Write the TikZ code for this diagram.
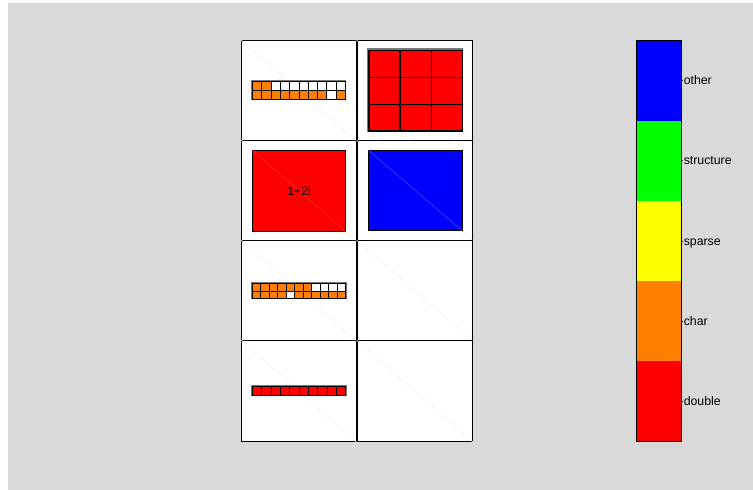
\documentclass[tikz,border=0pt]{standalone}
\usepackage{fontspec}
\setmainfont{Liberation Sans}
\definecolor{bg}{RGB}{217,217,217}
\definecolor{mlorange}{RGB}{255,128,0}
\definecolor{mlred}{RGB}{255,0,0}
\definecolor{mlblue}{RGB}{0,0,255}
\definecolor{mlgreen}{RGB}{0,255,0}
\definecolor{mlyellow}{RGB}{255,255,0}
\definecolor{shadow}{RGB}{120,120,120}
\begin{document}
\begin{tikzpicture}[x=1pt,y=-1pt,
  cellbox/.style={draw=black,line width=1pt,fill=white,inner sep=0pt,anchor=north west,minimum width=#1},
  cellbox/.default=115pt,
  diag/.style={draw=black!6,line width=0.6pt},
  sq/.style={draw=black,line width=1pt,inner sep=0pt,anchor=north west},
  blk/.style={draw=black,line width=1pt,inner sep=0pt,anchor=north west},
  lbl/.style={font=\fontsize{12.3}{14}\selectfont,inner sep=0pt,anchor=base west,text=black},
  cbseg/.style={inner sep=0pt,anchor=north west,minimum width=44.7pt,minimum height=80.3pt}]
\useasboundingbox (0,0) rectangle (753,490);
\fill[white] (0,0) rectangle (753,490);
\fill[bg] (8,3) rectangle (753,490);
% grid cells
\foreach \r/\y/\h in {1/40/100,2/140/100,3/240/100,4/340/101}{
  \node[cellbox=114.5pt,minimum height=\h pt] (cL\r) at (241,\y) {};
  \node[cellbox=115.5pt,minimum height=\h pt] (cR\r) at (356.5,\y) {};
  \draw[diag] (cL\r.north west) -- (cL\r.south east);
  \draw[diag] (cR\r.north west) -- (cR\r.south east);
}
% array 1 : char 2x10
\draw[shadow,line width=1.2pt] (251.2,80.5) rectangle (345.8,99.5);
\foreach \c/\col in {1/mlorange,2/mlorange,3/white,4/white,5/white,6/white,7/white,8/white,9/white,10/white}{
  \node[sq,fill=\col,minimum width=9.3pt,minimum height=8.7pt] (a1-1-\c) at ({252+(\c-1)*9.3},81.3) {};}
\foreach \c/\col in {1/mlorange,2/mlorange,3/mlorange,4/mlorange,5/mlorange,6/mlorange,7/mlorange,8/mlorange,9/white,10/mlorange}{
  \node[sq,fill=\col,minimum width=9.3pt,minimum height=8.7pt] (a1-2-\c) at ({252+(\c-1)*9.3},90) {};}
% array 2 : double 3x3
\draw[shadow,line width=1.2pt] (367.5,49) rectangle (462.5,131);
\foreach \r in {1,2,3}{\foreach \c in {1,2,3}{
  \node[sq,fill=mlred,line width=1.3pt,minimum width=31.2pt,minimum height=26.9pt] (a2-\r-\c) at ({368.3+(\c-1)*31.1},{49.7+(\r-1)*26.9}) {};}}
% array 3 : complex double
\node[blk,fill=mlred,minimum width=92.7pt,minimum height=80.7pt] (a3) at (252.3,150) {};
\draw[mlred!80!white,line width=0.5pt] (a3.north west) -- (a3.south east);
\node[font=\fontsize{12.3}{14}\selectfont,inner sep=0pt,text=black] (t3) at (a3.center) {1+2i};
% array 4 : other
\node[blk,fill=mlblue,minimum width=93.4pt,minimum height=80.3pt] (a4) at (368.3,150) {};
\draw[mlblue!70!white,line width=0.5pt] (a4.north west) -- (a4.south east);
% array 5 : char 2x11
\draw[shadow,line width=1.2pt] (251.2,282.5) rectangle (346.1,298.8);
\foreach \c/\col in {1/mlorange,2/mlorange,3/mlorange,4/mlorange,5/mlorange,6/mlorange,7/mlorange,8/white,9/white,10/white,11/white}{
  \node[sq,fill=\col,minimum width=8.48pt,minimum height=7.35pt] (a5-1-\c) at ({252+(\c-1)*8.48},283.3) {};}
\foreach \c/\col in {1/mlorange,2/mlorange,3/mlorange,4/mlorange,5/white,6/mlorange,7/mlorange,8/mlorange,9/mlorange,10/mlorange,11/mlorange}{
  \node[sq,fill=\col,minimum width=8.48pt,minimum height=7.35pt] (a5-2-\c) at ({252+(\c-1)*8.48},290.65) {};}
% array 7 : double 1x10
\draw[shadow,line width=1.2pt] (251.2,385.5) rectangle (346.1,395.5);
\foreach \c in {1,...,10}{
  \node[sq,fill=mlred,minimum width=9.33pt,minimum height=8.4pt] (a7-\c) at ({252+(\c-1)*9.33},386.3) {};}
% colorbar
\node[cbseg,fill=mlblue] (cb5) at (636,40) {};
\node[cbseg,fill=mlgreen] (cb4) at (636,120.3) {};
\node[cbseg,fill=mlyellow] (cb3) at (636,200.6) {};
\node[cbseg,fill=mlorange] (cb2) at (636,280.9) {};
\node[cbseg,fill=mlred] (cb1) at (636,361.2) {};
\draw[black,line width=1pt] (cb5.north west) rectangle (cb1.south east);
\foreach \n/\t in {5/other,4/structure,3/sparse,2/char,1/double}{
  \draw[black,line width=0.5pt] (cb\n.east) -- ++(2,0) coordinate (k\n);
  \node[lbl] (l\n) at ([xshift=0.5pt,yshift=-4.2pt]k\n) {\t};
}
\end{tikzpicture}
\end{document}
